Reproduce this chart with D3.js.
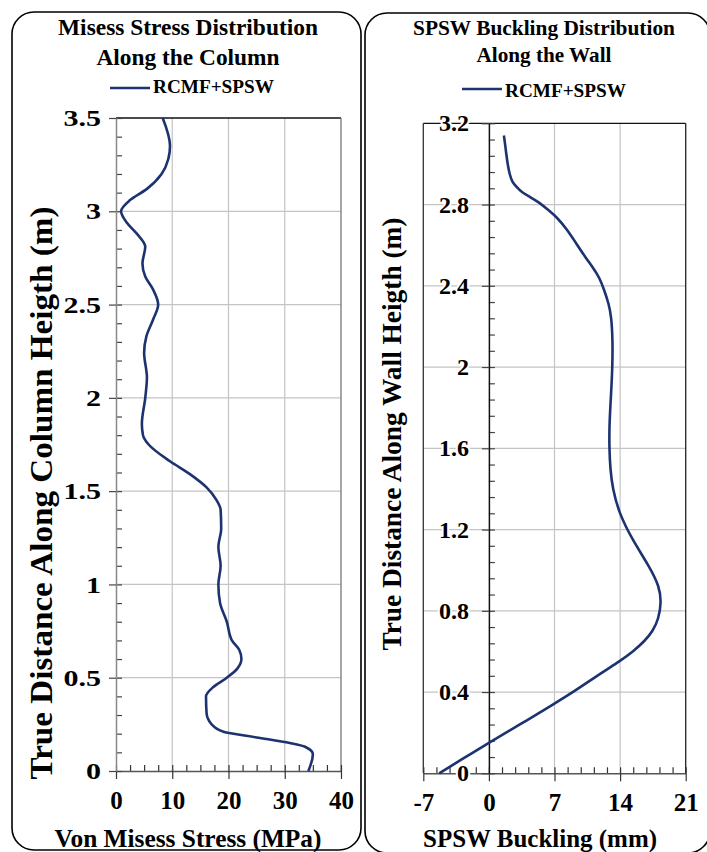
<!DOCTYPE html>
<html>
<head>
<meta charset="utf-8">
<script src="https://cdn.jsdelivr.net/npm/d3@7"></script>
<style>
  html, body { margin: 0; padding: 0; background: #fff; }
  svg text { font-family: "Times New Roman", "Liberation Serif", Tinos, Times, serif; font-weight: 700; fill: #000; }
</style>
</head>
<body>
<svg id="chart" width="707" height="852"></svg>
<script>
// Left panel: Von Mises stress along the column
const columnHeight = [0, 0.09, 0.13, 0.15, 0.18, 0.21, 0.25, 0.31, 0.40, 0.45, 0.50, 0.55, 0.60, 0.65, 0.70, 0.80,
    0.90, 1.00, 1.10, 1.20, 1.30, 1.40, 1.45, 1.52, 1.59, 1.66, 1.75, 1.80, 1.86, 2.00, 2.11, 2.24, 2.33, 2.42,
    2.50, 2.58, 2.65, 2.72, 2.81, 2.88, 2.94, 3.00, 3.06, 3.12, 3.20, 3.28, 3.35, 3.50];
const misesStress = [34.2, 35.0, 33.6, 30.9, 25.0, 19.1, 17.0, 16.1, 16.0, 17.3, 19.7, 21.6, 22.3, 21.9, 20.6, 19.7,
    18.5, 18.2, 18.6, 18.2, 18.7, 18.6, 17.9, 16.1, 13.2, 9.6, 5.8, 4.8, 4.6, 5.2, 5.5, 5.0, 5.4, 6.6,
    7.5, 6.6, 5.2, 4.7, 5.2, 3.7, 1.9, 0.9, 2.5, 5.5, 8.1, 9.3, 9.6, 8.3];
const stressTicks = [0, 10, 20, 30, 40];
const columnTicks = [0, 0.5, 1, 1.5, 2, 2.5, 3, 3.5];

// Right panel: SPSW out-of-plane buckling along the wall
const wallHeight = [0, 0.08, 0.15, 0.24, 0.34, 0.40, 0.50, 0.55, 0.60, 0.65, 0.70, 0.76, 0.84, 0.92, 1.02, 1.15,
    1.28, 1.40, 1.50, 1.60, 1.70, 1.80, 2.00, 2.15, 2.25, 2.31, 2.38, 2.44, 2.49, 2.54, 2.61, 2.68, 2.74, 2.77,
    2.81, 2.84, 2.86, 2.89, 2.91, 2.95, 3.00, 3.05, 3.10, 3.14];
const buckling = [-5.3, -2.5, 0.0, 3.3, 6.9, 9.0, 12.2, 13.9, 15.4, 16.6, 17.5, 18.1, 18.4, 18.2, 17.1, 15.3,
    13.9, 13.2, 12.95, 12.85, 12.85, 12.95, 13.2, 13.2, 13.05, 12.8, 12.3, 11.8, 11.1, 10.3, 9.3, 8.3, 7.2, 6.4,
    5.4, 4.3, 3.5, 2.9, 2.5, 2.2, 2.0, 1.85, 1.72, 1.6];
const bucklingTicks = [-7, 0, 7, 14, 21];
const wallTicks = [0, 0.4, 0.8, 1.2, 1.6, 2, 2.4, 2.8, 3.2];

const seriesName = "RCMF+SPSW";
const lineColor = "#1c3370";
const serif = '"Times New Roman", "Liberation Serif", Tinos, Times, serif';

const svg = d3.select("#chart");

function drawPanel(cfg) {
    const x = d3.scaleLinear().domain(cfg.xDomain).range(cfg.xRange);
    const y = d3.scaleLinear().domain(cfg.yDomain).range(cfg.yRange);
    const g = svg.append("g");

    // rounded frame around the panel
    g.append("rect")
        .attr("x", cfg.frame[0]).attr("y", cfg.frame[1])
        .attr("width", cfg.frame[2]).attr("height", cfg.frame[3])
        .attr("rx", 22).attr("ry", 22)
        .attr("fill", "none").attr("stroke", "#000").attr("stroke-width", 1.6);

    // grid lines
    g.selectAll(".hgrid")
        .data(cfg.yTicks.slice(1, -1))
        .enter().append("line")
        .attr("x1", cfg.xRange[0]).attr("x2", cfg.xRange[1])
        .attr("y1", d => y(d)).attr("y2", d => y(d))
        .attr("stroke", "#c4c4c4").attr("stroke-width", 1.2);
    g.selectAll(".vgrid")
        .data(cfg.xTicks.slice(1, -1).filter(d => d !== cfg.yAxisAt))
        .enter().append("line")
        .attr("x1", d => x(d)).attr("x2", d => x(d))
        .attr("y1", cfg.yRange[0]).attr("y2", cfg.yRange[1])
        .attr("stroke", "#c4c4c4").attr("stroke-width", 1.2);

    // plot border
    const [x0, x1] = cfg.xRange;
    const [yb, yt] = cfg.yRange;
    g.append("line").attr("x1", x0).attr("x2", x1).attr("y1", yt).attr("y2", yt)
        .attr("stroke", "#111").attr("stroke-width", 1.3);
    g.append("line").attr("x1", x1).attr("x2", x1).attr("y1", yt).attr("y2", yb)
        .attr("stroke", cfg.rightColor).attr("stroke-width", 1.3);
    if (cfg.leftBorder) {
        g.append("line").attr("x1", x0).attr("x2", x0).attr("y1", yt).attr("y2", yb)
            .attr("stroke", "#333").attr("stroke-width", 1.3);
    }

    // x axis: major ticks outside with labels, minor ticks inside
    const xAxisY = y(0);
    const minorX = d3.range(cfg.xDomain[0], cfg.xDomain[1] + 1e-9, cfg.xMinor);
    g.append("g")
        .attr("transform", `translate(0,${xAxisY})`)
        .call(d3.axisTop(x).tickValues(minorX).tickSize(6).tickFormat("").tickSizeOuter(0))
        .call(a => a.select(".domain").remove())
        .call(a => a.selectAll("line").attr("stroke", "#333").attr("stroke-width", 1.2));
    const xAxis = g.append("g")
        .attr("transform", `translate(0,${xAxisY})`)
        .call(d3.axisBottom(x).tickValues(cfg.xTicks).tickSize(8).tickPadding(12)
            .tickSizeOuter(0).tickFormat(d => String(d)));
    xAxis.attr("font-family", serif);
    xAxis.select(".domain").attr("stroke", cfg.xAxisColor).attr("stroke-width", 1.5);
    xAxis.selectAll("line").attr("stroke", "#333").attr("stroke-width", 1.2);
    xAxis.selectAll("text").attr("font-size", 25);

    // y axis
    const yAxisX = x(cfg.yAxisAt);
    const minorY = d3.range(0, cfg.yDomain[1] + 1e-9, cfg.yMinor);
    g.append("g")
        .attr("transform", `translate(${yAxisX},0)`)
        .call(d3.axisRight(y).tickValues(minorY).tickSize(6).tickFormat("").tickSizeOuter(0))
        .call(a => a.select(".domain").remove())
        .call(a => a.selectAll("line").attr("stroke", "#444").attr("stroke-width", 1.2));
    const yAxis = g.append("g")
        .attr("transform", `translate(${yAxisX},0)`)
        .call(d3.axisLeft(y).tickValues(cfg.yTicks).tickSize(7).tickPadding(cfg.yPad)
            .tickSizeOuter(0).tickFormat(d => String(d)));
    yAxis.attr("font-family", serif);
    yAxis.select(".domain").attr("stroke", cfg.yAxisColor).attr("stroke-width", 1.5);
    yAxis.selectAll("line").attr("stroke", "#444").attr("stroke-width", 1.2);
    yAxis.selectAll("text").attr("font-size", 24)
        .attr("x", 0)
        .attr("transform", `translate(${-7 - cfg.yPad},0) scale(${cfg.yLabelStretch},1)`)
        .attr("stroke", "#fff").attr("stroke-width", 4).attr("paint-order", "stroke");

    // data line
    const line = d3.line()
        .x((d, i) => x(cfg.values[i]))
        .y(d => y(d))
        .curve(cfg.curve);
    g.append("path")
        .datum(cfg.heights)
        .attr("d", line)
        .attr("fill", "none")
        .attr("stroke", lineColor)
        .attr("stroke-width", 2.6);

    // titles
    cfg.title.forEach((t, i) => {
        g.append("text")
            .attr("x", cfg.titleX).attr("y", cfg.titleY[i])
            .attr("text-anchor", "middle")
            .attr("font-size", cfg.titleSize)
            .attr("textLength", cfg.titleLen[i]).attr("lengthAdjust", "spacingAndGlyphs")
            .text(t);
    });

    // legend
    g.append("line")
        .attr("x1", cfg.legend[0]).attr("x2", cfg.legend[0] + 40)
        .attr("y1", cfg.legend[1]).attr("y2", cfg.legend[1])
        .attr("stroke", lineColor).attr("stroke-width", 2.6);
    g.append("text")
        .attr("x", cfg.legend[0] + 43).attr("y", cfg.legend[2])
        .attr("font-size", 19)
        .attr("textLength", 121).attr("lengthAdjust", "spacingAndGlyphs")
        .text(seriesName);

    // axis titles
    g.append("text")
        .attr("x", cfg.xTitle[0]).attr("y", cfg.xTitle[1])
        .attr("text-anchor", "middle").attr("font-size", 26)
        .attr("textLength", cfg.xTitle[2]).attr("lengthAdjust", "spacingAndGlyphs")
        .text(cfg.xLabel);
    g.append("text")
        .attr("transform", `translate(${cfg.yTitle[0]},${cfg.yTitle[1]}) rotate(-90)`)
        .attr("text-anchor", "middle").attr("font-size", cfg.yTitle[3])
        .attr("textLength", cfg.yTitle[2]).attr("lengthAdjust", "spacingAndGlyphs")
        .text(cfg.yLabel);
}

drawPanel({
    frame: [12, 12, 349, 838],
    xDomain: [0, 40], xRange: [116, 341],
    yDomain: [0, 3.5], yRange: [771, 118],
    xTicks: stressTicks, yTicks: columnTicks,
    xMinor: 2.5, yMinor: 0.1,
    yAxisAt: 0, yPad: 8, yLabelStretch: 1.25,
    leftBorder: false, rightColor: "#777",
    xAxisColor: "#555", yAxisColor: "#888",
    heights: columnHeight, values: misesStress, curve: d3.curveMonotoneY,
    title: ["Misess Stress Distribution", "Along the Column"],
    titleX: 188, titleY: [35, 65], titleSize: 23, titleLen: [260, 183],
    legend: [110, 88, 93],
    xLabel: "Von Misess Stress (MPa)", xTitle: [188, 847, 267],
    yLabel: "True Distance Along Column Heigth (m)", yTitle: [52, 493, 573, 32]
});

drawPanel({
    frame: [365, 13, 345, 840],
    xDomain: [-7, 21], xRange: [423.3, 685.7],
    yDomain: [0, 3.2], yRange: [773.3, 123.3],
    xTicks: bucklingTicks, yTicks: wallTicks,
    xMinor: 1.4, yMinor: 0.08,
    yAxisAt: 0, yPad: 13, yLabelStretch: 1,
    leftBorder: true, rightColor: "#222",
    xAxisColor: "#555", yAxisColor: "#111",
    heights: wallHeight, values: buckling, curve: d3.curveBasis,
    title: ["SPSW Buckling Distribution", "Along the Wall"],
    titleX: 544, titleY: [35, 62], titleSize: 21.5, titleLen: [262, 135],
    legend: [462, 89, 97],
    xLabel: "SPSW Buckling (mm)", xTitle: [540, 847, 234],
    yLabel: "True Distance Along Wall Heigth (m)", yTitle: [401, 434, 433, 28]
});
</script>
</body>
</html>
